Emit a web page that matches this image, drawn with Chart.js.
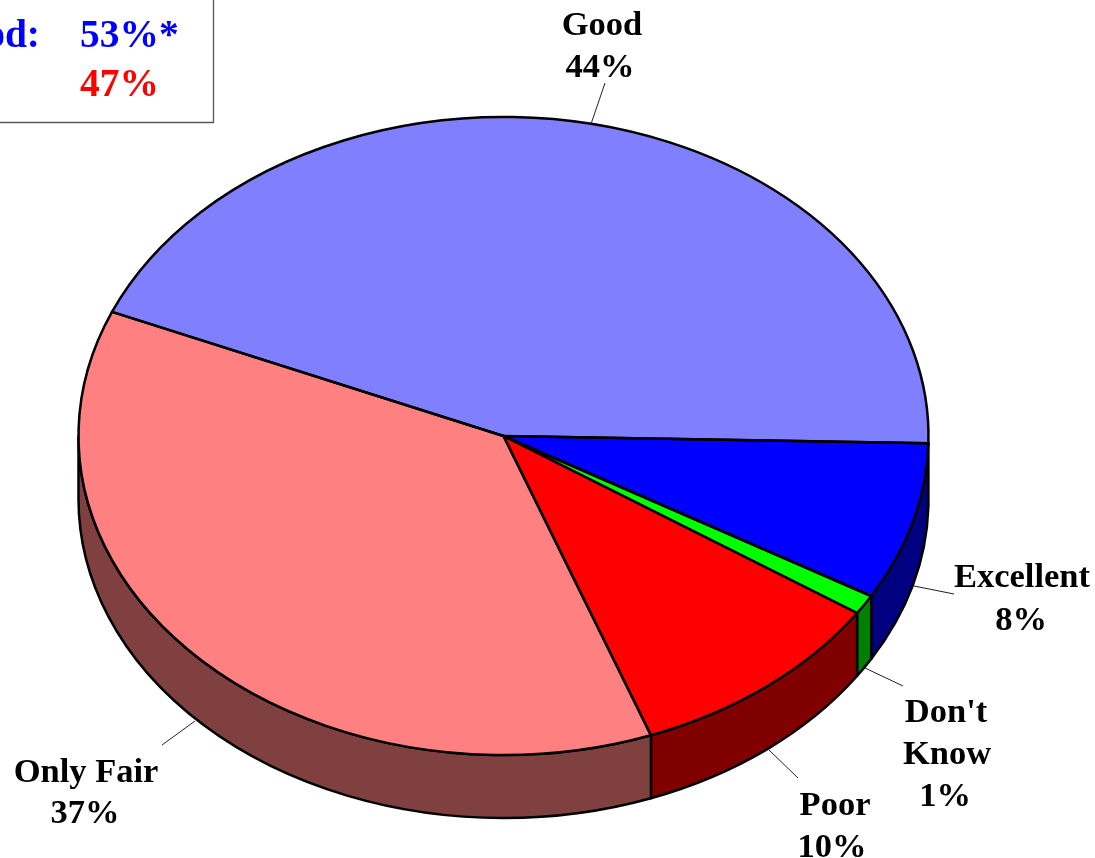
<!DOCTYPE html>
<html>
<head>
<meta charset="utf-8">
<style>html,body{margin:0;padding:0;background:#fff;overflow:hidden}canvas{display:block}</style>
<script src="https://cdn.jsdelivr.net/npm/chart.js@4"></script>
</head>
<body>
<canvas id="c" width="1095" height="858"></canvas>
<script>
const categories = ['Excellent', "Don't Know", 'Poor', 'Only Fair', 'Good'];
const values = [8, 1, 10, 37, 44];
const summaryValues = ['53%*', '47%'];
const summaryLabel = 'od:';

const topColors = ['#0000FF', '#00FF00', '#FF0000', '#FF8080', '#8080FF'];
const sideColors = ['#000080', '#008000', '#800000', '#804040', '#404080'];

const PIE = { cx: 503.5, cy: 436, rx: 425, ry: 319, depth: 63, rotation: 91.3 };
const FONT = 'bold 34.5px "Liberation Serif", "Times New Roman", serif';
const BOX_FONT = 'bold 39.5px "Liberation Serif", "Times New Roman", serif';
const LABELS = [
  { lines: [['Excellent', 1022, 587], ['8%', 1021, 630]], leader: [914, 586, 954, 594] },
  { lines: [["Don't", 946, 722], ['Know', 947, 764], ['1%', 945, 806]], leader: [865, 668, 903, 686] },
  { lines: [['Poor', 835, 815], ['10%', 832, 857]], leader: [769, 750, 798, 778] },
  { lines: [['Only Fair', 86, 782], ['37%', 85, 823]], leader: [195, 721, 162, 745] },
  { lines: [['Good', 602, 35], ['44%', 600, 77]], leader: [591, 124, 605, 83] }
];

const pie3d = {
  id: 'pie3d',
  beforeDatasetDraw(chart, args) {
    const ctx = chart.ctx;
    const { cx, cy, rx, ry, depth } = PIE;
    const arcs = args.meta.data;
    // side walls
    ctx.save();
    ctx.lineWidth = 2.5;
    ctx.strokeStyle = '#000';
    ctx.lineJoin = 'round';
    arcs.forEach((arc, i) => {
      const a = Math.max(arc.startAngle, 0);
      const b = Math.min(arc.endAngle, Math.PI);
      if (b <= a) return;
      ctx.beginPath();
      ctx.ellipse(cx, cy, rx, ry, 0, a, b);
      ctx.ellipse(cx, cy + depth, rx, ry, 0, b, a, true);
      ctx.closePath();
      ctx.fillStyle = sideColors[i];
      ctx.fill();
      ctx.stroke();
    });
    ctx.restore();
    // squash the library's circular slices to the tilted ellipse
    const first = arcs[0];
    ctx.save();
    ctx.translate(cx, cy);
    ctx.scale(rx / first.outerRadius, ry / first.outerRadius);
    ctx.translate(-first.x, -first.y);
  },
  afterDatasetDraw(chart) {
    chart.ctx.restore();
  },
  afterDatasetsDraw(chart) {
    const ctx = chart.ctx;
    const { cx, cy, rx, ry } = PIE;
    const arcs = chart.getDatasetMeta(0).data;
    ctx.save();
    ctx.lineWidth = 2.5;
    ctx.strokeStyle = '#000';
    ctx.lineJoin = 'round';
    arcs.forEach(arc => {
      ctx.beginPath();
      ctx.moveTo(cx, cy);
      ctx.ellipse(cx, cy, rx, ry, 0, arc.startAngle, arc.endAngle);
      ctx.closePath();
      ctx.stroke();
    });
    ctx.restore();

    // labels and leader lines
    ctx.save();
    ctx.font = FONT;
    ctx.textAlign = 'center';
    ctx.textBaseline = 'alphabetic';
    ctx.fillStyle = '#000';
    LABELS.forEach(l => {
      ctx.beginPath();
      ctx.moveTo(l.leader[0], l.leader[1]);
      ctx.lineTo(l.leader[2], l.leader[3]);
      ctx.lineWidth = 1;
      ctx.strokeStyle = '#222';
      ctx.stroke();
      l.lines.forEach(t => ctx.fillText(t[0], t[1], t[2]));
    });

    // summary box, cut by the left and top edges
    ctx.beginPath();
    ctx.moveTo(213.5, 0);
    ctx.lineTo(213.5, 122.5);
    ctx.lineTo(0, 122.5);
    ctx.lineWidth = 1.3;
    ctx.strokeStyle = '#555';
    ctx.stroke();
    ctx.font = BOX_FONT;
    ctx.textAlign = 'right';
    ctx.fillStyle = '#0000FF';
    ctx.fillText(summaryLabel, 40, 47);
    ctx.textAlign = 'left';
    ctx.fillText(summaryValues[0], 80, 47);
    ctx.fillStyle = '#FF0000';
    ctx.fillText(summaryValues[1], 80, 96);
    ctx.restore();
  }
};

new Chart(document.getElementById('c'), {
  type: 'pie',
  data: {
    labels: categories,
    datasets: [{
      data: values,
      backgroundColor: topColors,
      borderWidth: 0,
      hoverOffset: 0,
      clip: false
    }]
  },
  options: {
    responsive: false,
    animation: false,
    rotation: PIE.rotation,
    layout: { padding: 0 },
    plugins: { legend: { display: false }, tooltip: { enabled: false }, title: { display: false } }
  },
  plugins: [pie3d]
});
</script>
</body>
</html>
